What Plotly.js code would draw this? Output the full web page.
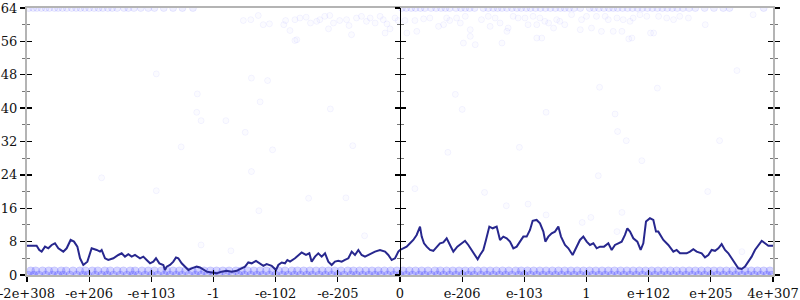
<!DOCTYPE html>
<html>
<head>
<meta charset="utf-8">
<script src="https://cdn.plot.ly/plotly-3.0.1.min.js"></script>
<style>html,body{margin:0;padding:0;background:#fff;}#chart{width:800px;height:300px;}</style>
</head>
<body>
<div id="chart"></div>
<script>
// Tick labels (x axis positions are tick indexes 0..12)
var xTickVals = [0,1,2,3,4,5,6,7,8,9,10,11,12];
var xTickText = ["-2e+308","-e+206","-e+103","-1","-e-102","-e-205","0","e-206","e-103","1","e+102","e+205","4e+307"];
var yTickVals = [0,8,16,24,32,40,48,56,64];

// Moving average line
var lineX = [0,0.155,0.198,0.236,0.29,0.343,0.397,0.45,0.504,0.584,0.638,0.702,0.756,0.81,0.853,0.906,0.971,1.04,1.121,1.174,1.201,1.255,1.308,1.389,1.469,1.523,1.576,1.63,1.684,1.737,1.818,1.871,1.925,1.979,2.032,2.075,2.129,2.193,2.22,2.247,2.3,2.354,2.397,2.434,2.488,2.542,2.595,2.649,2.729,2.783,2.836,2.89,2.971,3.051,3.131,3.212,3.292,3.373,3.426,3.507,3.56,3.614,3.684,3.737,3.802,3.855,3.936,4.005,4.043,4.097,4.15,4.188,4.231,4.311,4.365,4.418,4.488,4.542,4.579,4.633,4.686,4.74,4.794,4.847,4.901,4.954,5.008,5.062,5.115,5.169,5.223,5.276,5.33,5.383,5.437,5.517,5.598,5.678,5.759,5.812,5.866,5.92,5.973,
 6.0,6.054,6.107,6.161,6.214,6.268,6.322,6.349,6.386,6.429,6.483,6.536,6.59,6.643,6.697,6.751,6.804,6.858,6.922,6.992,7.046,7.099,7.153,7.206,7.249,7.287,7.34,7.383,7.437,7.491,7.555,7.609,7.662,7.716,7.769,7.823,7.877,7.93,7.984,8.038,8.091,8.134,8.198,8.252,8.306,8.338,8.386,8.44,8.493,8.547,8.59,8.654,8.708,8.777,8.831,8.895,8.949,9.003,9.056,9.11,9.164,9.217,9.282,9.351,9.405,9.458,9.512,9.566,9.619,9.657,9.7,9.753,9.818,9.871,9.914,9.957,10.021,10.075,10.118,10.155,10.236,10.316,10.397,10.45,10.504,10.558,10.611,10.665,10.718,10.772,10.853,10.906,10.96,11.013,11.067,11.121,11.174,11.228,11.282,11.335,11.389,11.442,11.496,11.55,11.603,11.657,11.71,11.764,11.818,11.871,11.925,12.0];
var lineY = [7.0,7.0,6.0,5.6,6.8,6.4,7.2,7.6,6.4,5.6,6.4,8.4,8.0,6.8,4.0,2.4,3.2,6.4,6.0,5.6,6.0,4.0,3.6,4.0,4.8,5.2,4.4,5.0,4.4,4.8,4.0,4.4,3.6,2.8,3.2,4.0,2.8,2.4,1.2,2.0,2.4,3.2,4.2,4.0,2.8,2.0,1.2,1.6,2.0,1.8,1.4,0.8,0.6,0.4,0.8,1.0,0.8,1.0,1.4,2.0,3.0,2.8,3.4,2.8,2.2,2.6,2.2,1.2,2.4,3.0,2.8,3.6,3.2,4.0,4.8,5.4,4.8,5.2,3.2,4.4,5.2,4.4,5.2,3.2,2.4,3.2,3.4,3.2,3.6,4.0,5.6,4.8,6.0,4.8,4.4,5.0,5.6,6.0,5.6,4.8,3.6,4.0,5.6,
 6.0,6.4,6.8,7.6,8.4,9.6,11.6,9.2,7.6,6.8,6.0,5.8,6.8,7.6,7.8,8.8,7.2,5.6,6.8,7.6,8.2,7.2,6.0,4.8,3.76,4.8,6.0,8.4,11.6,11.2,11.6,8.4,9.2,8.8,8.0,6.4,6.8,8.0,9.2,9.2,10.8,13.0,13.2,12.4,10.4,8.0,9.2,10.0,10.4,11.6,9.2,7.2,6.4,4.8,6.4,8.4,9.2,8.0,7.2,7.6,6.4,6.8,6.8,7.6,6.0,7.2,7.6,8.0,9.6,11.2,10.4,8.8,8.0,6.0,7.6,12.8,13.6,13.2,10.4,10.4,8.4,7.2,5.6,6.0,5.2,5.2,5.2,5.6,6.2,5.6,5.2,4.24,4.8,6.0,5.8,6.4,7.4,6.0,5.2,4.0,2.8,1.6,1.44,2.0,3.2,4.4,6.0,7.2,8.2,7.6,7.0,7.0];

// Sample points: dense rows at 0 and 1
var row0X = [0.02,0.11,0.19,0.3,0.41,0.5,0.58,0.69,0.8,0.9,0.98,1.1,1.2,1.29,1.39,1.5,1.61,1.7,1.79,1.9,2.0,2.1,2.21,2.3,2.4,2.49,2.6,2.71,2.8,2.9,3.0,3.09,3.2,3.3,3.41,3.5,3.6,3.7,3.79,3.9,4.0,4.11,4.2,4.3,4.4,4.5,4.59,4.7,4.8,4.9,5.0,5.1,5.21,5.3,5.4,5.5,5.6,5.69,5.8,5.9,6.0,6.1,6.2,6.31,6.4,6.5,6.6,6.7,6.8,6.9,7.0,7.1,7.19,7.3,7.4,7.5,7.6,7.7,7.8,7.91,8.0,8.1,8.2,8.3,8.4,8.5,8.6,8.7,8.8,8.9,9.0,9.1,9.2,9.3,9.4,9.5,9.6,9.7,9.8,9.9,10.0,10.1,10.2,10.3,10.4,10.5,10.6,10.7,10.8,10.9,11.0,11.1,11.2,11.3,11.4,11.5,11.6,11.7,11.8,11.9,11.98];
var row1X = [0.06,0.14,0.25,0.35,0.44,0.55,0.63,0.74,0.85,0.94,1.05,1.14,1.25,1.34,1.45,1.55,1.66,1.74,1.85,1.95,2.05,2.16,2.25,2.35,2.45,2.55,2.66,2.75,2.85,2.95,3.05,3.15,3.25,3.36,3.45,3.55,3.65,3.75,3.85,3.95,4.05,4.15,4.26,4.35,4.45,4.55,4.65,4.75,4.85,4.95,5.05,5.16,5.25,5.35,5.45,5.55,5.65,5.75,5.85,5.95,6.05,6.15,6.25,6.35,6.45,6.56,6.65,6.75,6.85,6.95,7.05,7.15,7.25,7.35,7.45,7.55,7.65,7.75,7.86,7.95,8.05,8.15,8.25,8.35,8.45,8.55,8.65,8.75,8.85,8.95,9.05,9.15,9.25,9.35,9.45,9.55,9.65,9.75,9.85,9.95,10.05,10.15,10.25,10.35,10.45,10.55,10.65,10.75,10.85,10.95,11.05,11.15,11.25,11.35,11.45,11.55,11.65,11.75,11.85,11.95];
// Rows at 64
var topLeftX = [0.03,0.1,0.16,0.23,0.3,0.36,0.44,0.5,0.57,0.64,0.72,0.79,0.86,0.93,1.0,1.08,1.15,1.22,1.3,1.37,1.45,1.56,1.63,1.72,1.83,1.95,2.05,2.2,2.35,2.5,2.67];
var topRightX = [6.03,6.1,6.18,6.25,6.33,6.4,6.5,6.58,6.66,6.73,6.8,6.9,6.98,7.05,7.12,7.2,7.34,7.42,7.5,7.57,7.64,7.72,7.8,7.88,7.95,8.03,8.1,8.18,8.26,8.34,8.42,8.5,8.58,8.65,8.72,8.8,8.9,9.05,9.12,9.2,9.28,9.36,9.43,9.5,9.58,9.66,9.74,9.82,9.9,9.98,10.06,10.14,10.22,10.3,10.38,10.46,10.55,10.65,10.75,10.9,11.05,11.2,11.3,11.85];
// Scattered points
var sparseX = [2.08,3.61,3.87,2.74,3.75,4.88,2.73,2.8,3.2,3.51,2.48,3.95,5.24,3.61,1.2,2.08,4.53,5.13,3.73,5.43,2.8,3.28,4.31,
 6.89,7.0,6.77,6.24,7.36,7.71,8.06,8.35,7.92,9.21,10.14,9.46,9.5,9.64,9.89,9.19,10.95,9.57,9.07,8.35,8.93,9.49,11.42,11.14,11.5,9.68,10.03,
 3.48,3.6,3.72,3.8,3.9,4.13,4.16,4.23,4.34,4.31,4.39,4.49,4.56,4.66,4.71,4.79,4.87,4.85,4.93,5.03,5.14,5.18,5.22,5.3,5.38,5.46,5.52,5.6,5.68,5.73,5.76,5.79,5.84,5.92,5.97,
 6.08,6.24,6.38,6.48,6.62,6.7,6.75,6.8,6.91,6.97,7.05,7.13,7.13,7.02,7.21,7.31,7.42,7.45,7.53,7.61,7.64,7.72,7.74,7.82,7.9,8.01,8.06,8.14,8.2,8.25,8.33,8.39,8.47,8.52,8.57,8.65,8.76,8.9,8.92,9.0,9.08,9.16,9.24,9.3,9.35,9.43,9.49,9.57,9.59,9.7,9.73,9.75,9.86,9.97,10.08,10.16,10.29,10.4,10.5,10.64,10.91,11.68,6.27,6.11,8.2,8.28];
var sparseY = [48.2,47.2,46.6,43.4,41.5,39.8,39.0,37.0,37.0,34.2,30.7,30.0,31.0,24.8,23.3,20.2,18.4,18.5,15.4,9.4,7.2,5.8,56.2,
 43.3,39.7,29.4,20.7,19.8,16.6,17.0,39.0,30.6,45.0,44.8,38.6,34.4,32.2,27.4,23.8,20.0,15.0,13.8,14.4,12.6,10.4,49.0,32.2,5.6,56.6,58.0,
 61.0,61.2,62.2,60.0,60.2,60.0,61.0,58.6,56.4,61.2,61.6,61.8,60.4,60.8,61.2,62.0,62.2,59.0,60.4,61.0,61.2,59.8,57.6,61.6,62.0,60.8,61.6,60.4,62.0,61.2,58.0,60.2,59.0,61.6,61.0,
 61.0,61.0,61.4,61.6,59.6,60.0,61.6,61.0,61.6,60.4,62.0,58.8,57.2,55.6,55.2,61.2,62.0,59.6,61.6,60.4,55.6,58.4,59.2,62.0,61.6,61.6,60.0,62.0,60.0,61.6,60.8,60.4,59.2,61.2,60.8,60.0,62.4,58.8,61.2,62.0,59.2,62.0,58.4,62.0,61.2,58.4,61.6,58.4,61.2,60.8,56.8,61.6,62.4,62.0,58.0,62.0,61.6,61.2,62.0,61.6,60.0,62.4,58.4,58.0,56.8,56.8];

var bandX = [], bandY = [];
row0X.forEach(function(v){bandX.push(v); bandY.push(0);});
row1X.forEach(function(v){bandX.push(v); bandY.push(1);});
var topX = topLeftX.concat(topRightX);
var topY = topX.map(function(){return 64;});

var traces = [
  {type:'scatter', mode:'markers', x:bandX, y:bandY, hoverinfo:'skip',
   marker:{symbol:'circle', size:8, color:'rgba(40,40,255,0.2)', line:{width:1, color:'rgba(0,0,255,0.08)'}}},
  {type:'scatter', mode:'markers', x:topX, y:topY, hoverinfo:'skip',
   marker:{symbol:'circle', size:7, color:'rgba(40,40,255,0.07)', line:{width:1, color:'rgba(0,0,255,0.07)'}}},
  {type:'scatter', mode:'markers', x:sparseX, y:sparseY, hoverinfo:'skip',
   marker:{symbol:'circle', size:6, color:'rgba(60,60,255,0.02)', line:{width:1, color:'rgba(0,0,255,0.045)'}}},
  {type:'scatter', mode:'lines', x:lineX, y:lineY, hoverinfo:'skip',
   line:{color:'#27278e', width:2}},
  // empty traces that only bind the extra tick axes
  {type:'scatter', mode:'markers', x:[], y:[], xaxis:'x2', yaxis:'y2', hoverinfo:'skip'},
  {type:'scatter', mode:'markers', x:[], y:[], yaxis:'y3', hoverinfo:'skip'},
  {type:'scatter', mode:'markers', x:[], y:[], yaxis:'y4', hoverinfo:'skip'},
  {type:'scatter', mode:'markers', x:[], y:[], yaxis:'y5', hoverinfo:'skip'},
  {type:'scatter', mode:'markers', x:[], y:[], yaxis:'y6', hoverinfo:'skip'}
];

var tickFont = {family:'DejaVu Serif', size:13, color:'#111'};
function yAx(extra){
  var a = {range:[0,64], autorange:false, tickvals:yTickVals, ticklen:5, tickwidth:1.3, tickcolor:'#000',
    showgrid:false, zeroline:false, fixedrange:true,
    minor:{tickvals:[4,12,20,28,36,44,52,60], ticklen:3, tickwidth:1, tickcolor:'#777'}};
  for (var k in extra) a[k] = extra[k];
  a.minor.ticks = a.ticks;
  return a;
}

var layout = {
  width:800, height:300,
  margin:{l:27, r:27, t:8, b:25, pad:0},
  paper_bgcolor:'#fff', plot_bgcolor:'#fff',
  showlegend:false,
  xaxis:{range:[0,12], autorange:false, tickvals:xTickVals, ticktext:xTickText, ticks:'outside', ticklen:5, tickwidth:1.3, tickcolor:'#000',
    showgrid:false, zeroline:false, showline:true, linecolor:'#b4b4b4', linewidth:2, mirror:true,
    tickfont:tickFont, layer:'below traces', ticklabeloverflow:'allow'},
  xaxis2:{overlaying:'x', anchor:'y', range:[0,12], autorange:false, tickvals:xTickVals, ticks:'inside', ticklen:5, tickwidth:1.3, tickcolor:'#000',
    showticklabels:false, showgrid:false, zeroline:false, showline:false},
  yaxis:yAx({ticks:'outside', showline:true, linecolor:'#b4b4b4', linewidth:2, tickfont:tickFont, layer:'below traces'}),
  yaxis2:yAx({overlaying:'y', anchor:'x', side:'left', ticks:'inside', showticklabels:false, showline:false}),
  yaxis3:yAx({overlaying:'y', anchor:'x', side:'right', ticks:'outside', showticklabels:false, showline:true, linecolor:'#b4b4b4', linewidth:2}),
  yaxis4:yAx({overlaying:'y', anchor:'x', side:'right', ticks:'inside', showticklabels:false, showline:false}),
  yaxis5:yAx({overlaying:'y', anchor:'free', position:0.5, side:'left', ticks:'outside', showticklabels:false, showline:true, linecolor:'#000', linewidth:1}),
  yaxis6:yAx({overlaying:'y', anchor:'free', position:0.5, side:'left', ticks:'inside', showticklabels:false, showline:false})
};

Plotly.newPlot('chart', traces, layout, {staticPlot:true, displayModeBar:false});
</script>
</body>
</html>
